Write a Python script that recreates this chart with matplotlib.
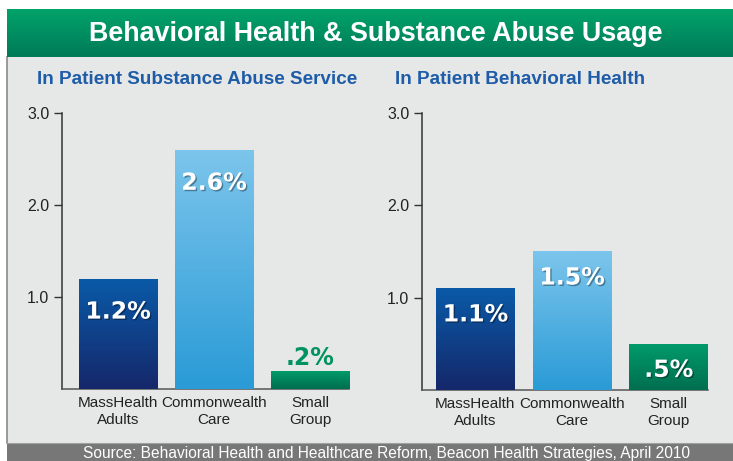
import numpy as np
import matplotlib
matplotlib.use("Agg")
import matplotlib.pyplot as plt
import matplotlib.patheffects as pe
from matplotlib.colors import LinearSegmentedColormap

# ---- data ----
title = "Behavioral Health & Substance Abuse Usage"
source = "Source: Behavioral Health and Healthcare Reform, Beacon Health Strategies, April 2010"
categories = ["MassHealth\nAdults", "Commonwealth\nCare", "Small\nGroup"]
left_title = "In Patient Substance Abuse Service"
left_values = [1.2, 2.6, 0.2]
left_labels = ["1.2%", "2.6%", ".2%"]
right_title = "In Patient Behavioral Health"
right_values = [1.1, 1.5, 0.5]
right_labels = ["1.1%", "1.5%", ".5%"]
yticks = [1.0, 2.0, 3.0]
ytick_labels = ["1.0", "2.0", "3.0"]

W, H = 733, 461
plt.rcParams['font.family'] = ['Liberation Sans', 'DejaVu Sans']
fig = plt.figure(figsize=(W / 100, H / 100), dpi=100)
fig.patch.set_facecolor('white')


def fr(x0, y0, x1, y1):
    """pixel box (top-left origin) -> figure rect [l, b, w, h]"""
    return [x0 / W, 1 - y1 / H, (x1 - x0) / W, (y1 - y0) / H]


# panel background
bg = fig.add_axes(fr(7, 57, 733, 443))
bg.set_facecolor('#e6e8e8')
bg.set_xticks([]); bg.set_yticks([])
for s in ['top', 'right', 'bottom']:
    bg.spines[s].set_visible(False)
bg.spines['left'].set_color('#8a8a8a')
bg.spines['left'].set_linewidth(1.2)

# header
hd = fig.add_axes(fr(7, 9, 733, 57))
hd.axis('off')
hcmap = LinearSegmentedColormap.from_list('h', ['#00a36a', '#007a57'])
hd.imshow(np.linspace(0, 1, 64).reshape(-1, 1), cmap=hcmap, aspect='auto',
          extent=[0, 1, 0, 1])
hd.set_xlim(0, 1); hd.set_ylim(0, 1)
fig.text(376 / W, 1 - 34 / H, title, color='white', fontsize=19.4, fontweight='bold',
         ha='center', va='center')

# footer
ft = fig.add_axes(fr(7, 443, 733, 461))
ft.set_facecolor('#777777')
ft.set_xticks([]); ft.set_yticks([])
for s in ft.spines.values():
    s.set_visible(False)
ft.spines['top'].set_visible(True)
ft.spines['top'].set_color('#a0a0a0')
fig.text(386 / W, 1 - 453.5 / H, source, color='white', fontsize=11.2,
         ha='center', va='center')

grads = [
    LinearSegmentedColormap.from_list('b', ['#15286a', '#0a5aa8']),
    LinearSegmentedColormap.from_list('c', ['#2a9bd6', '#7cc5ec']),
    LinearSegmentedColormap.from_list('g', ['#006e50', '#009c6a']),
]
grad_img = np.linspace(1, 0, 128).reshape(-1, 1)
shadow = [pe.withSimplePatchShadow(offset=(1, -1), shadow_rgbFace='black', alpha=0.35)]
vfont = dict(family='DejaVu Sans', fontsize=17, fontweight='bold')


def panel(box, xl, values, labels, sub, sub_xy, inside_off):
    ax = fig.add_axes(fr(*box))
    ax.patch.set_alpha(0)
    x = np.arange(len(values))
    bars = ax.bar(x, values, width=0.8125, color=['#0a4a98', '#4aaee2', '#00875f'], zorder=2)
    for b, cm in zip(bars, grads):
        x0, w, h = b.get_x(), b.get_width(), b.get_height()
        im = ax.imshow(grad_img, cmap=cm, aspect='auto',
                       extent=[x0, x0 + w, 0, h], zorder=3, origin='upper')
        im.set_clip_path(b)
    for b, lab, v in zip(bars, labels, values):
        cx = b.get_x() + b.get_width() / 2
        if v < 0.35:
            ax.annotate(lab, (cx, v), xytext=(0, 13), textcoords='offset pixels',
                        ha='center', va='center', color='#00935f', zorder=5, **vfont)
        else:
            ax.annotate(lab, (cx, v), xytext=(0, -inside_off), textcoords='offset pixels',
                        ha='center', va='center', color='white', zorder=5,
                        path_effects=shadow, **vfont)
    ax.set_xlim(*xl)
    ax.set_ylim(0, 3.0)
    ax.set_yticks(yticks)
    ax.set_yticklabels(ytick_labels)
    ax.set_xticks(x)
    ax.set_xticklabels(categories, linespacing=1.3)
    ax.tick_params(axis='y', length=6, width=1, color='#333333', labelsize=11.5,
                   labelcolor='#222222', pad=3)
    ax.tick_params(axis='x', length=0, labelsize=11, labelcolor='#222222', pad=5)
    for s in ['top', 'right']:
        ax.spines[s].set_visible(False)
    ax.spines['left'].set_color('#333333')
    ax.spines['bottom'].set_color('#555555')
    ax.spines['left'].set_linewidth(1.1)
    ax.spines['bottom'].set_linewidth(1.1)
    fig.text(sub_xy[0] / W, 1 - sub_xy[1] / H, sub, color='#1f5ca8', fontsize=13.6,
             fontweight='bold', ha='left', va='center')
    return ax


panel((62, 113, 349, 389), (-0.583, 2.406), left_values, left_labels, left_title,
      (37, 80), 33)
panel((422, 113, 708, 390), (-0.552, 2.406), right_values, right_labels, right_title,
      (395, 80), 26)

fig.savefig('out.png', dpi=100)
